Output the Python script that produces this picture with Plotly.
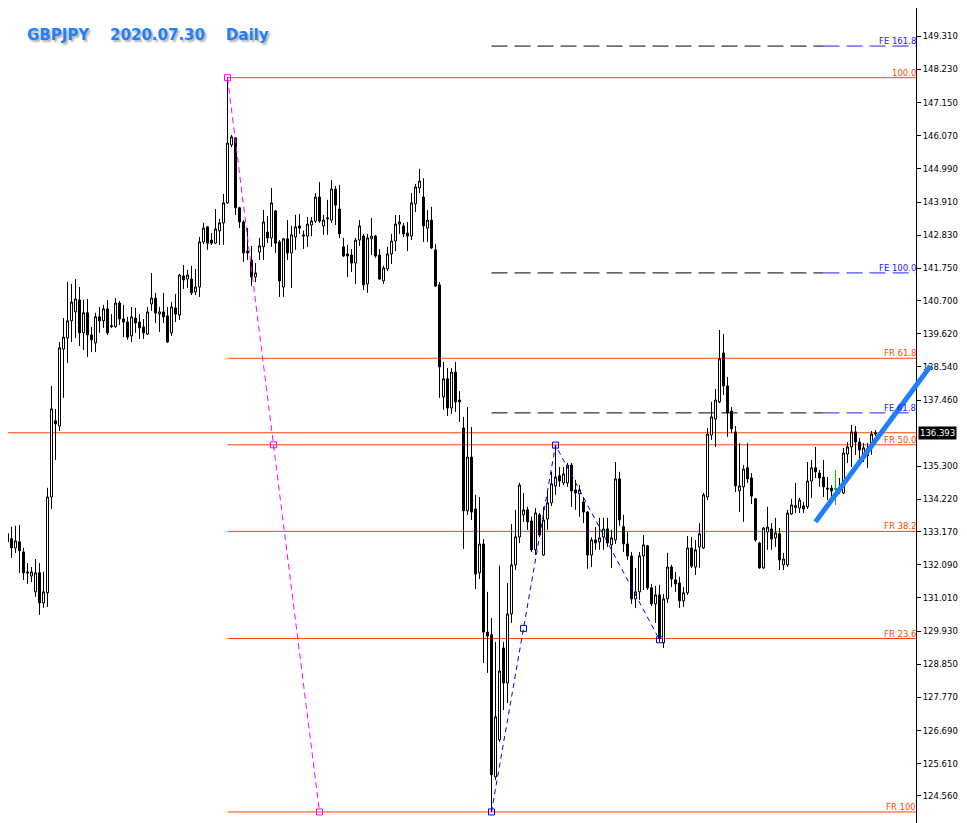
import plotly.graph_objects as go

# daily candles, GBPJPY (oldest first)
opens = [
    133.55, 133.10, 132.94, 132.64, 132.84, 132.51, 131.86, 131.73, 131.21, 131.83,
    130.85, 131.18, 134.30, 136.78, 136.61, 139.12, 139.48, 140.04, 140.33, 140.72,
    139.65, 140.30, 139.58, 139.32, 140.17, 140.04, 140.43, 139.88, 139.85, 140.62,
    140.10, 140.00, 139.55, 140.13, 140.00, 139.84, 139.61, 140.59, 140.78, 140.26,
    140.33, 140.20, 139.65, 140.46, 140.23, 141.50, 141.40, 141.40, 140.98, 141.14,
    142.61, 143.10, 142.67, 142.57, 142.97, 143.23, 143.88, 145.77, 146.00, 143.72,
    143.26, 142.31, 142.02, 141.47, 142.28, 142.45, 142.93, 142.74, 143.62, 142.61,
    141.14, 142.71, 142.25, 142.77, 143.13, 142.80, 142.80, 143.16, 143.29, 144.07,
    143.13, 143.36, 143.32, 144.33, 143.68, 142.45, 142.22, 142.18, 141.92, 142.67,
    142.80, 141.24, 142.71, 142.80, 142.18, 141.34, 141.73, 142.22, 142.64, 143.19,
    143.13, 142.90, 142.80, 143.85, 144.37, 144.07, 143.06, 143.32, 142.35, 141.21,
    137.56, 138.15, 137.20, 138.37, 137.46, 136.55, 133.85, 135.60, 133.91, 131.83,
    132.77, 129.90, 129.81, 125.18, 126.39, 129.38, 128.24, 130.49, 132.09, 133.00,
    133.72, 133.88, 133.52, 132.58, 133.72, 132.41, 133.58, 134.11, 134.66, 134.99,
    134.76, 134.76, 135.34, 134.53, 134.40, 134.14, 133.81, 132.41, 132.90, 132.84,
    133.00, 133.26, 132.74, 132.90, 134.89, 133.33, 132.77, 132.38, 130.98, 131.21,
    132.38, 132.71, 131.34, 130.82, 131.11, 129.55, 130.98, 132.02, 131.60, 131.50,
    130.92, 131.18, 132.64, 132.02, 132.67, 132.64, 134.30, 136.32, 136.84, 137.40,
    138.99, 137.92, 137.10, 136.42, 134.50, 134.63, 135.25, 134.92, 134.24, 132.80,
    131.99, 133.16, 133.26, 132.97, 133.10, 132.09, 132.09, 133.75, 133.96, 133.94,
    134.01, 133.98, 134.82, 135.25, 135.08, 134.95, 134.59, 134.59, 134.56, 134.46,
    134.43, 135.70, 135.93, 136.42, 136.09, 135.67, 135.87, 135.90, 136.35,
]
highs = [
    133.78, 133.33, 133.33, 133.36, 133.39, 132.64, 132.15, 132.02, 132.28, 132.15,
    131.86, 134.60, 137.92, 137.17, 139.35, 140.13, 141.31, 141.24, 141.40, 141.14,
    140.72, 140.75, 139.84, 140.30, 140.49, 140.56, 140.72, 140.26, 140.78, 140.69,
    140.56, 140.17, 140.49, 140.46, 140.26, 140.10, 140.49, 141.60, 140.95, 140.49,
    140.95, 140.49, 140.65, 140.91, 141.57, 141.86, 141.70, 141.83, 141.73, 142.77,
    143.23, 143.13, 142.90, 143.68, 143.36, 144.17, 147.96, 146.09, 146.03, 143.75,
    143.32, 143.06, 142.48, 141.92, 142.74, 143.65, 143.45, 144.37, 143.65, 142.67,
    142.74, 143.32, 143.13, 143.49, 143.52, 142.98, 143.42, 143.42, 144.20, 144.56,
    143.49, 143.98, 144.63, 144.43, 144.46, 142.74, 142.51, 142.38, 142.74, 143.32,
    142.87, 142.87, 143.39, 142.84, 142.38, 141.83, 142.45, 142.87, 143.49, 143.49,
    143.23, 143.26, 144.20, 144.50, 144.99, 144.69, 143.65, 143.75, 142.54, 141.30,
    138.70, 138.50, 138.50, 138.70, 137.75, 136.91, 137.23, 136.58, 134.37, 134.30,
    132.93, 131.21, 130.36, 129.58, 132.06, 129.58, 131.50, 133.42, 133.88, 134.76,
    134.43, 133.98, 133.65, 133.94, 133.78, 133.98, 134.53, 135.12, 135.99, 135.28,
    135.28, 135.41, 135.41, 134.86, 134.69, 134.30, 133.84, 132.99, 133.32, 133.62,
    133.62, 133.62, 133.23, 135.44, 135.12, 133.72, 133.16, 132.51, 131.99, 132.51,
    133.06, 132.74, 131.47, 131.40, 131.44, 131.14, 132.48, 132.09, 131.86, 131.70,
    131.37, 133.03, 133.00, 132.90, 133.45, 134.43, 136.55, 137.40, 137.82, 139.74,
    139.61, 138.21, 137.23, 136.61, 136.06, 135.34, 136.06, 135.08, 134.27, 132.84,
    133.32, 133.98, 133.45, 133.62, 133.29, 132.48, 133.88, 134.24, 134.76, 134.27,
    134.14, 135.44, 135.51, 135.93, 135.18, 135.51, 134.95, 134.69, 135.18, 134.92,
    135.90, 136.09, 136.65, 136.61, 136.22, 136.06, 136.06, 136.45, 136.48,
]
lows = [
    133.00, 132.38, 132.32, 132.48, 131.83, 131.60, 131.47, 131.53, 131.05, 130.46,
    130.69, 130.72, 133.91, 135.51, 136.45, 137.53, 138.67, 139.35, 139.48, 139.22,
    139.09, 138.86, 139.02, 139.02, 139.65, 139.81, 139.58, 139.81, 139.81, 139.90,
    139.51, 139.42, 139.35, 139.65, 139.45, 139.45, 139.58, 140.36, 139.97, 139.68,
    139.97, 139.32, 139.55, 140.00, 140.07, 141.08, 141.11, 140.88, 140.88, 140.82,
    142.54, 142.35, 142.51, 142.54, 142.51, 142.51, 143.85, 145.70, 143.49, 143.06,
    141.96, 142.02, 141.17, 141.30, 142.02, 142.02, 142.57, 142.45, 142.25, 140.82,
    140.82, 142.02, 141.11, 142.35, 142.87, 142.38, 142.45, 142.80, 143.23, 143.23,
    142.84, 142.84, 143.23, 143.16, 142.74, 142.12, 141.47, 141.63, 141.24, 142.48,
    141.04, 140.95, 142.18, 142.09, 141.37, 141.24, 141.66, 141.89, 142.31, 142.87,
    142.77, 142.31, 142.67, 143.58, 144.20, 142.61, 142.61, 142.38, 141.14, 137.53,
    137.14, 136.94, 137.01, 137.07, 136.75, 132.61, 133.72, 133.55, 131.30, 131.63,
    128.89, 128.57, 124.04, 125.08, 126.32, 127.36, 127.59, 130.20, 131.92, 132.80,
    133.49, 133.23, 132.51, 132.41, 133.00, 132.38, 133.23, 134.01, 134.37, 134.63,
    134.69, 134.63, 133.98, 133.88, 133.65, 133.45, 131.96, 132.02, 132.58, 132.58,
    132.58, 132.67, 131.99, 132.77, 133.36, 132.51, 132.25, 130.82, 130.69, 130.95,
    131.27, 131.27, 130.75, 130.20, 129.58, 129.38, 130.85, 131.37, 131.21, 130.69,
    130.72, 131.11, 131.99, 131.76, 131.99, 132.61, 134.20, 136.16, 135.93, 137.36,
    137.62, 136.26, 136.39, 134.46, 133.81, 133.49, 134.76, 134.07, 132.84, 131.96,
    131.96, 132.58, 132.58, 132.67, 131.92, 131.92, 132.02, 133.72, 133.78, 133.78,
    133.78, 133.91, 134.27, 134.92, 134.63, 134.30, 134.20, 134.30, 134.04, 134.40,
    134.40, 135.41, 135.28, 135.67, 135.41, 135.44, 135.25, 135.67, 136.29,
]
closes = [
    133.23, 132.84, 132.64, 132.87, 132.55, 131.83, 131.83, 131.86, 131.83, 130.85,
    131.21, 134.30, 137.17, 136.68, 139.16, 139.51, 140.04, 140.65, 140.75, 139.65,
    140.30, 139.58, 139.42, 140.17, 140.04, 140.43, 139.65, 139.85, 140.62, 140.10,
    140.00, 139.51, 140.17, 139.97, 139.81, 139.65, 140.33, 140.78, 140.30, 140.33,
    140.17, 139.35, 140.49, 140.26, 141.53, 141.37, 141.53, 140.95, 141.14, 142.61,
    143.06, 142.57, 142.57, 143.03, 143.23, 143.88, 145.83, 146.03, 143.72, 143.26,
    142.25, 142.25, 141.47, 141.60, 142.48, 143.26, 142.74, 143.88, 142.57, 141.34,
    142.71, 142.25, 142.84, 143.10, 143.06, 142.83, 143.19, 143.29, 144.07, 143.29,
    143.32, 143.39, 144.33, 143.81, 142.87, 142.15, 142.15, 141.92, 142.67, 143.13,
    141.21, 142.74, 142.80, 142.15, 141.40, 141.76, 142.22, 142.64, 143.19, 143.26,
    142.87, 142.80, 143.88, 144.40, 144.59, 143.13, 143.32, 142.41, 141.17, 138.54,
    138.15, 137.20, 138.37, 137.40, 137.40, 133.85, 135.60, 133.81, 131.79, 132.77,
    129.90, 129.77, 125.25, 127.14, 128.63, 128.24, 130.49, 132.09, 133.00, 134.69,
    133.88, 133.49, 132.58, 133.78, 133.06, 133.55, 134.11, 134.73, 134.95, 134.82,
    135.05, 135.34, 134.50, 134.43, 134.53, 133.81, 132.41, 132.90, 132.80, 132.97,
    133.26, 132.80, 132.97, 134.89, 133.55, 132.77, 132.38, 130.98, 131.21, 132.38,
    132.74, 131.34, 130.82, 131.11, 129.68, 130.98, 132.02, 131.63, 131.47, 130.92,
    131.18, 132.64, 132.05, 132.58, 133.10, 134.37, 136.35, 136.91, 137.46, 138.80,
    137.92, 137.04, 136.52, 134.66, 134.66, 135.21, 134.89, 134.33, 132.90, 131.99,
    133.29, 133.32, 132.93, 133.13, 132.25, 132.28, 133.78, 134.04, 134.02, 134.20,
    133.91, 134.82, 135.25, 135.12, 134.92, 134.63, 134.56, 134.50, 134.56, 134.59,
    135.73, 135.93, 136.42, 136.09, 135.83, 135.90, 135.64, 136.35, 136.39,
]
days = list(range(len(closes)))

doji_day = 208
last_price = 136.393

price_ticks = [150.36, 149.31, 148.23, 147.15, 146.07, 144.99, 143.91, 142.83,
               141.75, 140.70, 139.62, 138.54, 137.46, 135.30, 134.22, 133.17,
               132.09, 131.01, 129.93, 128.85, 127.77, 126.69, 125.61, 124.56]

# fibonacci retracement (Dec high -> Mar low)
fr_start = 56
fr_levels = [147.96, 138.82, 136.00, 133.18, 129.69, 124.04]
fr_labels = ["100.0", "FR 61.8", "FR 50.0", "FR 38.2", "FR 23.6", "FR 100"]
fr_anchor_x = [56, 67.5, 79]
fr_anchor_y = [147.96, 136.00, 124.04]

# fibonacci expansion (A-B-C)
fe_start = 122
fe_split = 205
fe_levels = [148.99, 141.60, 137.04]
fe_labels = ["FE 161.8", "FE 100.0", "FE 61.8"]
fe_path_x = [122, 138, 164]
fe_path_y = [124.04, 135.99, 129.65]
fe_box_x = [122, 130, 138, 164]
fe_box_y = [124.04, 130.02, 135.99, 129.65]

# hand drawn trend line
trend_x = [203, 231.75]
trend_y = [133.49, 138.57]

# the page body adds an 8px margin, so the figure is 8px smaller each way
W, H = 959, 815
axis_px = 908
x_range = [1.125, 240.875]   # 4px per day, candle centres on half pixels
x_right = 228.25             # right edge of the price area
y_range = [123.68, 150.23]

ORANGE = "#FF4500"
FE_BLUE = "#2020FF"
font = "DejaVu Sans"

fig = go.Figure()

fig.add_trace(go.Candlestick(
    x=days, open=opens, high=highs, low=lows, close=closes,
    increasing=dict(line=dict(color="black", width=1), fillcolor="white"),
    decreasing=dict(line=dict(color="black", width=1), fillcolor="black"),
    whiskerwidth=0, showlegend=False, hoverinfo="skip",
))

fig.add_trace(go.Candlestick(
    x=[days[doji_day]], open=[opens[doji_day]], high=[highs[doji_day]],
    low=[lows[doji_day]], close=[closes[doji_day]],
    increasing=dict(line=dict(color="#00D000", width=1), fillcolor="#00D000"),
    decreasing=dict(line=dict(color="#00D000", width=1), fillcolor="#00D000"),
    whiskerwidth=0, showlegend=False, hoverinfo="skip",
))

# retracement anchor line
fig.add_trace(go.Scatter(
    x=fr_anchor_x, y=fr_anchor_y, mode="lines+markers",
    line=dict(color="#FF00FF", width=1, dash="6px,4px"),
    marker=dict(symbol="square-open", size=6, color="#FF00FF", line=dict(width=1)),
    showlegend=False, hoverinfo="skip",
))

# expansion path
fig.add_trace(go.Scatter(
    x=fe_path_x, y=fe_path_y, mode="lines",
    line=dict(color="#0000FF", width=1, dash="5px,4px"),
    showlegend=False, hoverinfo="skip",
))
fig.add_trace(go.Scatter(
    x=fe_box_x, y=fe_box_y, mode="markers",
    marker=dict(symbol="square-open", size=6, color="#0000FF", line=dict(width=1)),
    showlegend=False, hoverinfo="skip",
))

shapes = []
annotations = []

# bid line
shapes.append(dict(type="line", xref="x", yref="y", x0=x_range[0], x1=x_right,
                   y0=last_price, y1=last_price, layer="below",
                   line=dict(color=ORANGE, width=1)))

for lvl, lab in zip(fr_levels, fr_labels):
    shapes.append(dict(type="line", xref="x", yref="y", x0=fr_start, x1=x_right,
                       y0=lvl, y1=lvl, layer="below",
                       line=dict(color=ORANGE, width=1)))
    annotations.append(dict(x=x_right, y=lvl, xref="x", yref="y", text=lab,
                            xanchor="right", yanchor="bottom", showarrow=False,
                            borderpad=0, yshift=-1,
                            font=dict(family=font, size=8.5, color=ORANGE)))

for lvl, lab in zip(fe_levels, fe_labels):
    shapes.append(dict(type="line", xref="x", yref="y", x0=fe_start, x1=fe_split,
                       y0=lvl, y1=lvl, layer="below",
                       line=dict(color="black", width=1, dash="16px,7px")))
    shapes.append(dict(type="line", xref="x", yref="y", x0=fe_split, x1=x_right,
                       y0=lvl, y1=lvl, layer="below",
                       line=dict(color=FE_BLUE, width=1, dash="16px,7px")))
    annotations.append(dict(x=x_right, y=lvl, xref="x", yref="y", text=lab,
                            xanchor="right", yanchor="bottom", showarrow=False,
                            borderpad=0, yshift=-1,
                            font=dict(family=font, size=8.5, color=FE_BLUE)))

shapes.append(dict(type="line", xref="x", yref="y", x0=trend_x[0], x1=trend_x[1],
                   y0=trend_y[0], y1=trend_y[1], layer="above",
                   line=dict(color="#1E80FF", width=5)))

# current price box on the axis
annotations.append(dict(x=axis_px / W, y=last_price, xref="paper", yref="y",
                        text=f"{last_price:.3f}", xanchor="left", yanchor="middle",
                        xshift=2, showarrow=False, bgcolor="black", borderpad=1,
                        font=dict(family=font, size=8.5, color="white")))

annotations.append(dict(x=17 / W, y=1 - 27 / H, xref="paper", yref="paper",
                        text="GBPJPY\u00a0\u00a0\u00a0 2020.07.30\u00a0\u00a0\u00a0 Daily",
                        xanchor="left", yanchor="middle", showarrow=False,
                        font=dict(family=font, size=15, color="#1E80FF",
                                  weight="bold", shadow="2px 2px 2px #b0b0b0")))

fig.update_layout(
    width=W, height=H,
    margin=dict(l=0, r=0, t=0, b=0),
    paper_bgcolor="white", plot_bgcolor="white",
    showlegend=False,
    boxgap=0.5, boxgroupgap=0,
    shapes=shapes, annotations=annotations,
    xaxis=dict(range=x_range, visible=False, showgrid=False, zeroline=False,
               rangeslider=dict(visible=False), fixedrange=True),
    yaxis=dict(range=y_range, side="right", anchor="free", position=axis_px / W,
               tickvals=price_ticks, ticktext=[f"{v:.3f}" for v in price_ticks],
               ticks="outside", ticklen=4, tickcolor="black",
               showline=True, linecolor="black", linewidth=1,
               showgrid=False, zeroline=False, fixedrange=True,
               tickfont=dict(family=font, size=8.5, color="black")),
)

fig.write_html("out.html")
